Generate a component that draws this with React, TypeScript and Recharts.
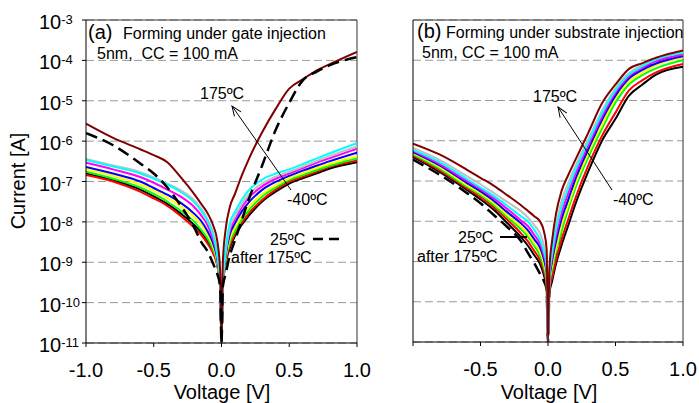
import React from "react";
import { LineChart, Line, XAxis, YAxis, CartesianGrid, ReferenceLine } from "recharts";

// sweep voltage [V], shared by every curve
const voltage = [-1, -0.8, -0.6, -0.5, -0.4, -0.3, -0.2, -0.15, -0.1, -0.06, -0.03, -0.01, 0,
  0.01, 0.03, 0.06, 0.1, 0.15, 0.2, 0.3, 0.4, 0.5, 0.6, 0.7, 0.8, 1.0];

const xTicks = [-1, -0.5, 0, 0.5, 1];
const yTicks = [1e-11, 1e-10, 1e-9, 1e-8, 1e-7, 1e-6, 1e-5, 1e-4, 1e-3];

// (a) forming under gate injection, |I| [A]
const gateBlack = [1.58e-7, 1.07e-7, 6.3e-8, 4.3e-8, 2.8e-8, 1.6e-8, 8.3e-9, 5.5e-9, 3.2e-9, 1.8e-9, 8.3e-10, 2.5e-10, 1e-11,
  2.5e-10, 8.9e-10, 2.2e-9, 4.5e-9, 8.5e-9, 1.4e-8, 3.2e-8, 5.6e-8, 8.9e-8, 1.2e-7, 1.58e-7, 2.1e-7, 3.0e-7];
const gateRed = [1.45e-7, 1.0e-7, 5.6e-8, 3.8e-8, 2.5e-8, 1.4e-8, 7.1e-9, 4.8e-9, 2.8e-9, 1.6e-9, 7.9e-10, 2.5e-10, 1e-11,
  2.5e-10, 1.0e-9, 2.5e-9, 5.0e-9, 9.5e-9, 1.6e-8, 3.5e-8, 6.3e-8, 1.0e-7, 1.3e-7, 1.74e-7, 2.3e-7, 3.3e-7];
const gateGreen = [1.74e-7, 1.17e-7, 7.1e-8, 4.9e-8, 3.2e-8, 1.86e-8, 1.0e-8, 6.3e-9, 3.7e-9, 2.0e-9, 8.9e-10, 2.5e-10, 1e-11,
  2.6e-10, 1.12e-9, 3.0e-9, 6.0e-9, 1.15e-8, 1.9e-8, 4.2e-8, 7.1e-8, 1.1e-7, 1.45e-7, 1.9e-7, 2.45e-7, 3.7e-7];
const gateYellow = [2.0e-7, 1.38e-7, 8.5e-8, 6.0e-8, 4.0e-8, 2.4e-8, 1.32e-8, 8.7e-9, 4.8e-9, 2.4e-9, 1.0e-9, 2.5e-10, 1e-11,
  2.7e-10, 1.26e-9, 3.7e-9, 7.4e-9, 1.4e-8, 2.3e-8, 4.9e-8, 8.1e-8, 1.2e-7, 1.6e-7, 2.14e-7, 2.75e-7, 4.3e-7];
const gateBlue = [2.3e-7, 1.58e-7, 1.0e-7, 6.9e-8, 4.7e-8, 2.95e-8, 1.58e-8, 1.05e-8, 5.6e-9, 2.8e-9, 1.12e-9, 2.8e-10, 1e-11,
  2.8e-10, 1.41e-9, 4.7e-9, 9.3e-9, 1.82e-8, 3.0e-8, 6.2e-8, 9.8e-8, 1.38e-7, 1.86e-7, 2.45e-7, 3.2e-7, 5.2e-7];
const gateMagenta = [2.9e-7, 2.0e-7, 1.29e-7, 9.3e-8, 6.3e-8, 4.2e-8, 2.3e-8, 1.45e-8, 7.9e-9, 3.5e-9, 1.26e-9, 2.8e-10, 1e-11,
  2.95e-10, 1.58e-9, 5.9e-9, 1.17e-8, 2.3e-8, 3.9e-8, 7.6e-8, 1.17e-7, 1.58e-7, 2.14e-7, 2.9e-7, 3.8e-7, 6.5e-7];
const gateSilver = [3.6e-7, 2.5e-7, 1.7e-7, 1.26e-7, 8.9e-8, 6.0e-8, 3.4e-8, 2.14e-8, 1.12e-8, 5.0e-9, 1.58e-9, 3.2e-10, 1e-11,
  3.0e-10, 1.74e-9, 6.9e-9, 1.38e-8, 2.75e-8, 4.7e-8, 8.9e-8, 1.32e-7, 1.74e-7, 2.34e-7, 3.2e-7, 4.3e-7, 7.4e-7];
const gateCyan = [3.4e-7, 2.34e-7, 1.58e-7, 1.17e-7, 8.3e-8, 5.5e-8, 3.0e-8, 1.9e-8, 1.0e-8, 4.4e-9, 1.41e-9, 3.2e-10, 1e-11,
  3.2e-10, 2.0e-9, 8.9e-9, 1.78e-8, 3.5e-8, 6.0e-8, 1.12e-7, 1.58e-7, 2.0e-7, 2.7e-7, 3.7e-7, 5.0e-7, 8.9e-7];
const gate175 = [2.7e-6, 1.2e-6, 6.3e-7, 4.5e-7, 3.0e-7, 1.26e-7, 4.8e-8, 2.8e-8, 1.58e-8, 7.9e-9, 3.2e-9, 6.3e-10, 1e-11,
  1.0e-9, 6.3e-9, 2.24e-8, 5.0e-8, 1.41e-7, 3.5e-7, 1.66e-6, 6.3e-6, 2.0e-5, 3.4e-5, 5.6e-5, 8.1e-5, 1.62e-4];
const gateAfter = [1.58e-6, 7.9e-7, 2.8e-7, 1.58e-7, 7.1e-8, 2.5e-8, 7.1e-9, 3.2e-9, 1.78e-9, 8.9e-10, 5.0e-10, 2.5e-10, 1e-11,
  2.5e-10, 5.0e-10, 1.41e-9, 3.5e-9, 1.12e-8, 3.5e-8, 2.5e-7, 1.9e-6, 8.9e-6, 3.2e-5, 5.2e-5, 7.6e-5, 1.2e-4];

// (b) forming under substrate injection, |I| [A]
const subBlack = [4.0e-7, 1.66e-7, 6.0e-8, 3.5e-8, 1.9e-8, 8.9e-9, 4.0e-9, 2.5e-9, 1.41e-9, 8.9e-10, 4.5e-10, 2.24e-10, 1e-11,
  1.58e-10, 3.2e-10, 8.9e-10, 2.5e-9, 7.9e-9, 2.5e-8, 1.78e-7, 1.0e-6, 3.5e-6, 1.32e-5, 2.5e-5, 4.4e-5, 6.9e-5];
const subRed = [4.3e-7, 1.82e-7, 6.6e-8, 4.0e-8, 2.2e-8, 1.07e-8, 5.0e-9, 3.2e-9, 1.78e-9, 1.12e-9, 5.6e-10, 2.5e-10, 1e-11,
  2.0e-10, 4.0e-10, 1.12e-9, 3.5e-9, 1.12e-8, 3.5e-8, 2.5e-7, 1.32e-6, 5.0e-6, 1.78e-5, 3.2e-5, 5.0e-5, 8.1e-5];
const subGreen = [4.6e-7, 2.0e-7, 7.2e-8, 4.6e-8, 2.5e-8, 1.26e-8, 6.3e-9, 4.2e-9, 2.4e-9, 1.41e-9, 7.1e-10, 3.2e-10, 1e-11,
  2.5e-10, 6.3e-10, 1.78e-9, 5.6e-9, 2.0e-8, 6.3e-8, 4.0e-7, 2.0e-6, 8.9e-6, 2.5e-5, 4.3e-5, 6.3e-5, 1.0e-4];
const subYellow = [4.9e-7, 2.2e-7, 7.9e-8, 5.0e-8, 2.8e-8, 1.41e-8, 7.4e-9, 5.0e-9, 2.8e-9, 1.78e-9, 8.9e-10, 4.0e-10, 1e-11,
  2.8e-10, 7.9e-10, 2.24e-9, 7.9e-9, 2.5e-8, 7.9e-8, 5.0e-7, 2.5e-6, 1.12e-5, 3.0e-5, 5.0e-5, 7.6e-5, 1.17e-4];
const subBlue = [5.2e-7, 2.4e-7, 8.9e-8, 5.5e-8, 3.2e-8, 1.66e-8, 8.9e-9, 6.0e-9, 3.5e-9, 2.24e-9, 1.12e-9, 5.0e-10, 1e-11,
  3.2e-10, 1.0e-9, 3.2e-9, 1.12e-8, 3.5e-8, 1.05e-7, 6.3e-7, 3.3e-6, 1.32e-5, 3.5e-5, 5.8e-5, 8.3e-5, 1.26e-4];
const subMagenta = [5.6e-7, 2.6e-7, 1.0e-7, 6.3e-8, 3.7e-8, 2.0e-8, 1.05e-8, 7.6e-9, 4.5e-9, 2.8e-9, 1.41e-9, 6.3e-10, 1e-11,
  3.5e-10, 1.26e-9, 4.5e-9, 1.58e-8, 5.0e-8, 1.41e-7, 7.9e-7, 4.0e-6, 1.58e-5, 4.0e-5, 6.5e-5, 9.5e-5, 1.38e-4];
const subSilver = [6.6e-7, 3.3e-7, 1.32e-7, 8.3e-8, 5.0e-8, 3.0e-8, 1.78e-8, 1.26e-8, 7.9e-9, 5.0e-9, 2.5e-9, 1.0e-9, 1e-11,
  4.5e-10, 2.0e-9, 7.9e-9, 3.2e-8, 8.9e-8, 2.24e-7, 1.12e-6, 5.6e-6, 2.0e-5, 4.8e-5, 7.6e-5, 1.07e-4, 1.58e-4];
const subCyan = [5.9e-7, 2.9e-7, 1.12e-7, 6.9e-8, 4.2e-8, 2.4e-8, 1.32e-8, 1.0e-8, 6.0e-9, 3.5e-9, 1.78e-9, 7.9e-10, 1e-11,
  4.0e-10, 1.58e-9, 6.3e-9, 2.24e-8, 6.6e-8, 1.78e-7, 9.5e-7, 4.8e-6, 1.78e-5, 4.4e-5, 7.1e-5, 1.05e-4, 1.51e-4];
const sub175 = [8.5e-7, 4.5e-7, 1.9e-7, 1.2e-7, 7.6e-8, 4.4e-8, 2.5e-8, 1.82e-8, 1.32e-8, 1.0e-8, 5.6e-9, 2.0e-9, 1e-11,
  6.3e-10, 3.2e-9, 1.58e-8, 5.6e-8, 1.41e-7, 3.2e-7, 1.62e-6, 8.5e-6, 2.5e-5, 6.1e-5, 8.5e-5, 1.15e-4, 1.74e-4];
const subAfter = [3.4e-7, 1.41e-7, 5.0e-8, 2.8e-8, 1.41e-8, 7.1e-9, 3.2e-9, 1.66e-9, 8.9e-10, 5.0e-10, 3.2e-10, 2.0e-10, 1e-11,
  2.0e-10, 5.0e-10, 1.58e-9, 6.3e-9, 2.5e-8, 8.9e-8, 6.3e-7, 3.5e-6, 1.41e-5, 3.8e-5, 6.3e-5, 9.3e-5, 1.38e-4];

const FONT = "'Liberation Sans', Arial, Helvetica, sans-serif";

const AFTER = { key: "after", color: "#000000", dash: "12 6" };
// -40ºC ... 175ºC
const TEMPS = [
  { key: "black", color: "#000000" },
  { key: "red", color: "#ff0000" },
  { key: "green", color: "#00ff00" },
  { key: "yellow", color: "#ffff00" },
  { key: "blue", color: "#0000ff" },
  { key: "magenta", color: "#ff00ff" },
  { key: "silver", color: "#c0c0c0" },
  { key: "cyan", color: "#00ffff" },
  { key: "t175", color: "#800000" },
];

const gateRows = voltage.map((v, i) => ({
  v, black: gateBlack[i], red: gateRed[i], green: gateGreen[i], yellow: gateYellow[i], blue: gateBlue[i],
  magenta: gateMagenta[i], silver: gateSilver[i], cyan: gateCyan[i], t175: gate175[i], after: gateAfter[i],
}));
const subRows = voltage.map((v, i) => ({
  v, black: subBlack[i], red: subRed[i], green: subGreen[i], yellow: subYellow[i], blue: subBlue[i],
  magenta: subMagenta[i], silver: subSilver[i], cyan: subCyan[i], t175: sub175[i], after: subAfter[i],
}));

function YTick({ y, payload }: any) {
  const exp = Math.round(Math.log10(payload.value));
  return (
    <text x={39} y={y + 9} fontFamily={FONT} fill="#000">
      <tspan fontSize={20}>10</tspan>
      <tspan fontSize={13} dy={-5}>{exp}</tspan>
    </text>
  );
}

function NoTick() {
  return null;
}

function XTick({ x, y, payload, hideFirst }: any) {
  if (hideFirst && payload.value === -1) return null;
  return (
    <text x={x} y={y + 30} textAnchor="middle" fontSize={20} fontFamily={FONT} fill="#000">
      {payload.value.toFixed(1)}
    </text>
  );
}

function Panel({ rows, series, width, left, yWidth, right, bottom, showY }: any) {
  return (
    <div style={{ position: "absolute", left, top: 0 }}>
      <LineChart width={width} height={403} data={rows} margin={{ top: 20, right, bottom, left: 0 }}>
        <CartesianGrid vertical={false} stroke="#999" strokeDasharray="8 4" />
        <XAxis
          dataKey="v" type="number" domain={[-1, 1]} ticks={xTicks} allowDataOverflow
          height={30} tickSize={4} tickMargin={0}
          axisLine={{ stroke: "#000" }} tickLine={{ stroke: "#000" }}
          tick={<XTick hideFirst={!showY} />}
        />
        <YAxis
          scale="log" type="number" domain={[1e-11, 1e-3]} ticks={yTicks} allowDataOverflow
          width={yWidth} tickSize={showY ? 4 : 0}
          axisLine={{ stroke: "#000" }} tickLine={showY ? { stroke: "#000" } : false}
          tick={showY ? <YTick /> : <NoTick />}
        />
        <ReferenceLine y={1e-3} stroke="#333" ifOverflow="visible" />
        <ReferenceLine x={1} stroke="#333" ifOverflow="visible" />
        {series.map((s: any) => (
          <Line
            key={s.key}
            dataKey={s.key}
            type="monotone"
            stroke={s.color}
            strokeWidth={s.dash ? 2.5 : 2}
            strokeDasharray={s.dash}
            dot={false}
            activeDot={false}
            isAnimationActive={false}
          />
        ))}
      </LineChart>
    </div>
  );
}

export default function App() {
  const t = { fontFamily: FONT, fill: "#000" };
  return (
    <div style={{ position: "absolute", left: 0, top: 0, width: 699, height: 403, background: "#fff", overflow: "hidden" }}>
      <Panel rows={gateRows} series={[...TEMPS, AFTER]} left={0} width={380} yWidth={86} right={23} bottom={30} showY />
      <Panel rows={subRows} series={[AFTER, ...TEMPS]} left={400} width={299} yWidth={13} right={16} bottom={31} showY={false} />
      <svg width={699} height={403} style={{ position: "absolute", left: 0, top: 0, pointerEvents: "none" }}>
        <defs>
          <marker id="arr" markerWidth="12" markerHeight="10" refX="11" refY="5" orient="auto" markerUnits="userSpaceOnUse">
            <path d="M1,1 L11,5 L1,9" fill="none" stroke="#000" strokeWidth={1} />
          </marker>
        </defs>
        <text {...t} x={25} y={181} fontSize={20} textAnchor="middle" transform="rotate(-90 25 181)">Current [A]</text>
        <text {...t} x={222} y={399} fontSize={20} textAnchor="middle">Voltage [V]</text>
        <text {...t} x={549} y={399} fontSize={20} textAnchor="middle">Voltage [V]</text>

        <text {...t} x={88} y={39} fontSize={20}>(a)</text>
        <text {...t} x={123} y={39} fontSize={16}>Forming under gate injection</text>
        <text {...t} x={97} y={59} fontSize={16} style={{ whiteSpace: "pre" }}>5nm,  CC = 100 mA</text>
        <text {...t} x={200} y={99} fontSize={16}>175ºC</text>
        <line x1={291} y1={190} x2={232} y2={106} stroke="#000" strokeWidth={1} markerEnd="url(#arr)" />
        <text {...t} x={287} y={205} fontSize={16}>-40ºC</text>
        <text {...t} x={270} y={245} fontSize={16}>25ºC</text>
        <line x1={313} y1={239} x2={340} y2={239} stroke="#000" strokeWidth={2.5} strokeDasharray="10 6" />
        <text {...t} x={231} y={263} fontSize={16}>after 175ºC</text>

        <text {...t} x={417} y={38} fontSize={20}>(b)</text>
        <text {...t} x={446} y={38} fontSize={16}>Forming under substrate injection</text>
        <text {...t} x={422} y={58} fontSize={16}>5nm, CC = 100 mA</text>
        <text {...t} x={533} y={102} fontSize={16}>175ºC</text>
        <line x1={612} y1={190} x2={558} y2={107} stroke="#000" strokeWidth={1} markerEnd="url(#arr)" />
        <text {...t} x={613} y={205} fontSize={16}>-40ºC</text>
        <text {...t} x={458} y={243} fontSize={16}>25ºC</text>
        <line x1={500} y1={237} x2={527} y2={237} stroke="#000" strokeWidth={2} />
        <text {...t} x={417} y={262} fontSize={16}>after 175ºC</text>
      </svg>
    </div>
  );
}
